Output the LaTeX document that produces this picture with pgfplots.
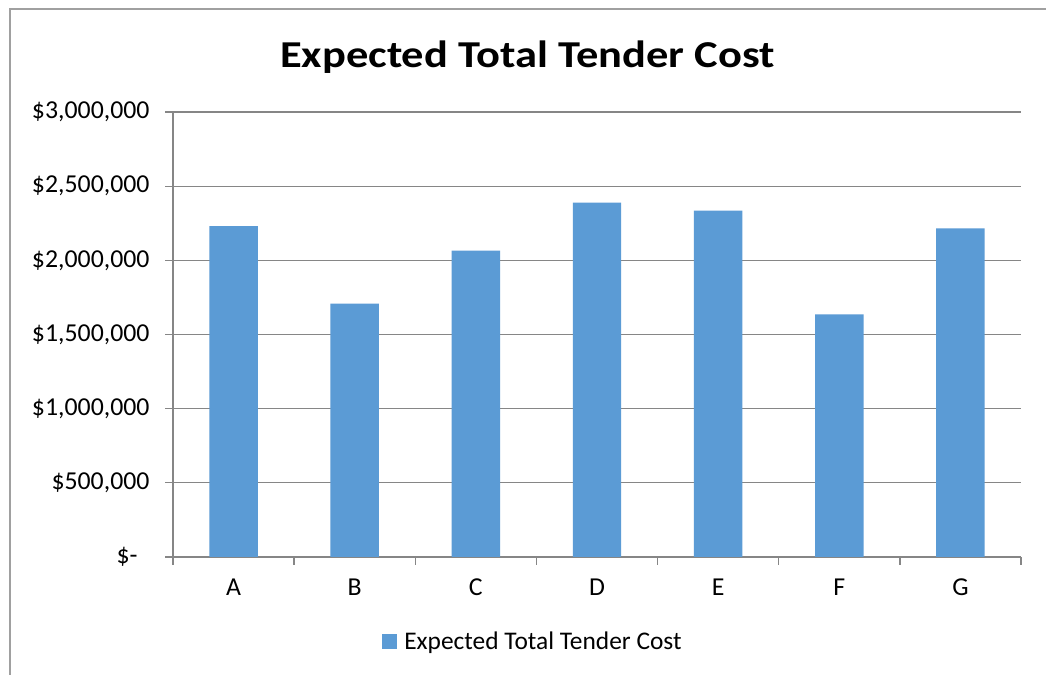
\documentclass[border=0pt]{standalone}
\usepackage{graphicx}
\usepackage{pgfplots}
\pgfplotsset{compat=1.18}
\usepackage{fontspec}
\setmainfont{Carlito}
\definecolor{barblue}{RGB}{91,155,213}
\definecolor{axgray}{RGB}{134,134,134}
\definecolor{bordergray}{RGB}{160,160,160}
\begin{document}
\begin{tikzpicture}[x=1bp,y=1bp]
\useasboundingbox[fill=white] (0,0) rectangle (1046,675);
\draw[bordergray,line width=2bp] (10,0) -- (10,666) -- (1046,666);
\node[anchor=base,font=\fontsize{38bp}{40bp}\selectfont\bfseries,inner sep=0pt] at (527.5,607) {\scalebox{1.17}[1]{Expected Total Tender Cost}};
\begin{axis}[
  at={(173bp,118bp)}, anchor=south west,
  scale only axis, width=848bp, height=445bp,
  ymin=0, ymax=3000000,
  xmin=-0.5, xmax=6.5,
  axis x line*=bottom, axis y line*=left,
  axis line style={axgray,line width=1.3bp},
  every tick/.style={axgray,line width=1.3bp},
  tick align=outside,
  major tick length=8bp,
  xtick={-0.5,0.5,...,6.5},
  x tick label as interval,
  xticklabels={A,B,C,D,E,F,G},
  ytick={0,500000,...,3000000},
  yticklabels={\$-\hspace*{12bp},{\$500,000},{\$1,000,000},{\$1,500,000},{\$2,000,000},{\$2,500,000},{\$3,000,000}},
  ymajorgrids,
  major grid style={axgray,line width=1.3bp},
  ticklabel style={font=\fontsize{25.8bp}{28bp}\selectfont},
  yticklabel style={xshift=-12bp},
  xticklabel style={yshift=-10bp},
  scaled y ticks=false,
  legend style={at={(rel axis cs:0.4245,-0.189)}, anchor=center, draw=none,
    font=\fontsize{25.4bp}{28bp}\selectfont, inner sep=0pt,
    /tikz/every even column/.append style={column sep=0pt}},
  legend image code/.code={\fill[barblue] (0bp,-7.5bp) rectangle (15bp,7.5bp); \path (20bp,0);},
  clip=false,
]
\addplot[ybar, bar width=0.4, fill=barblue, draw=none] coordinates {
  (0,2231000) (1,1708000) (2,2065000) (3,2389000) (4,2335000) (5,1636000) (6,2216000)
};
\addlegendentry{Expected Total Tender Cost}
\end{axis}
\end{tikzpicture}
\end{document}
